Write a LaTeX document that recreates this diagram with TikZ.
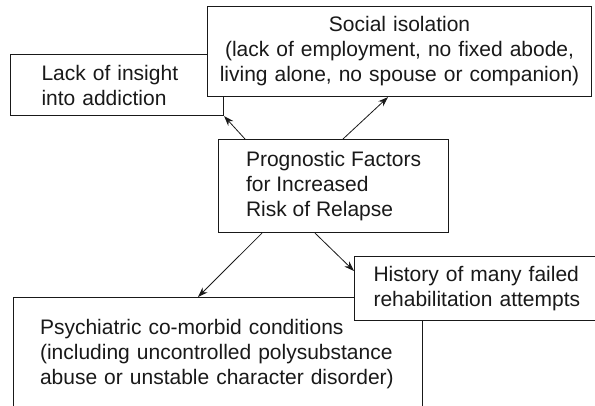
\documentclass[tikz,border=0pt]{standalone}
\usepackage{fontspec}
\setmainfont{Liberation Sans}
\usetikzlibrary{arrows.meta}
\hyphenpenalty=10000
\exhyphenpenalty=10000
\begin{document}
\begin{tikzpicture}[x=1pt,y=-1pt,
  box/.style={draw=black!90, line width=1.1pt, fill=white, align=left, inner ysep=0pt,
              font=\fontsize{21}{25}\selectfont, text=black!90},
  arr/.style={-{Stealth[length=10pt,width=7pt]}, line width=0.8pt, draw=black!90}]
\useasboundingbox (0,0) rectangle (595,406);
\clip (0,0) rectangle (595,406);
\node[box, anchor=north west, minimum width=213pt, minimum height=61pt,
      text width=151pt, inner xsep=31pt] (lack) at (10,54) {Lack of insight\\into addiction};
\node[box, anchor=north west, minimum width=384pt, minimum height=90pt,
      text width=364pt, inner xsep=10pt, align=center] (soc) at (207,6)
      {Social isolation\\(lack of employment, no fixed abode,\\living alone, no spouse or companion)};
\node[box, anchor=north west, minimum width=230pt, minimum height=93pt,
      inner xsep=20pt] (ctr) at (218,139)
      {Prognostic Factors\\for Increased\\Risk of Relapse};
\node[box, anchor=north west, minimum width=409pt, minimum height=113pt,
      text width=356pt, inner xsep=26.5pt] (psy) at (13,297)
      {Psychiatric co-morbid conditions\\(including uncontrolled polysubstance\\abuse or unstable character disorder)};
\node[box, anchor=north west, minimum width=250pt, minimum height=64pt,
      text width=212pt, inner xsep=19pt] (hist) at (354,256)
      {History of many failed\\rehabilitation attempts};
\draw[arr] ([xshift=27pt]ctr.north west) -- (lack.south east);
\draw[arr] ([xshift=125pt]ctr.north west) -- ([xshift=181pt]soc.south west);
\draw[arr] ([xshift=44pt]ctr.south west) -- ([xshift=185pt]psy.north west);
\draw[arr] ([xshift=97pt]ctr.south west) -- ([yshift=-15pt]hist.north west);
\end{tikzpicture}
\end{document}
